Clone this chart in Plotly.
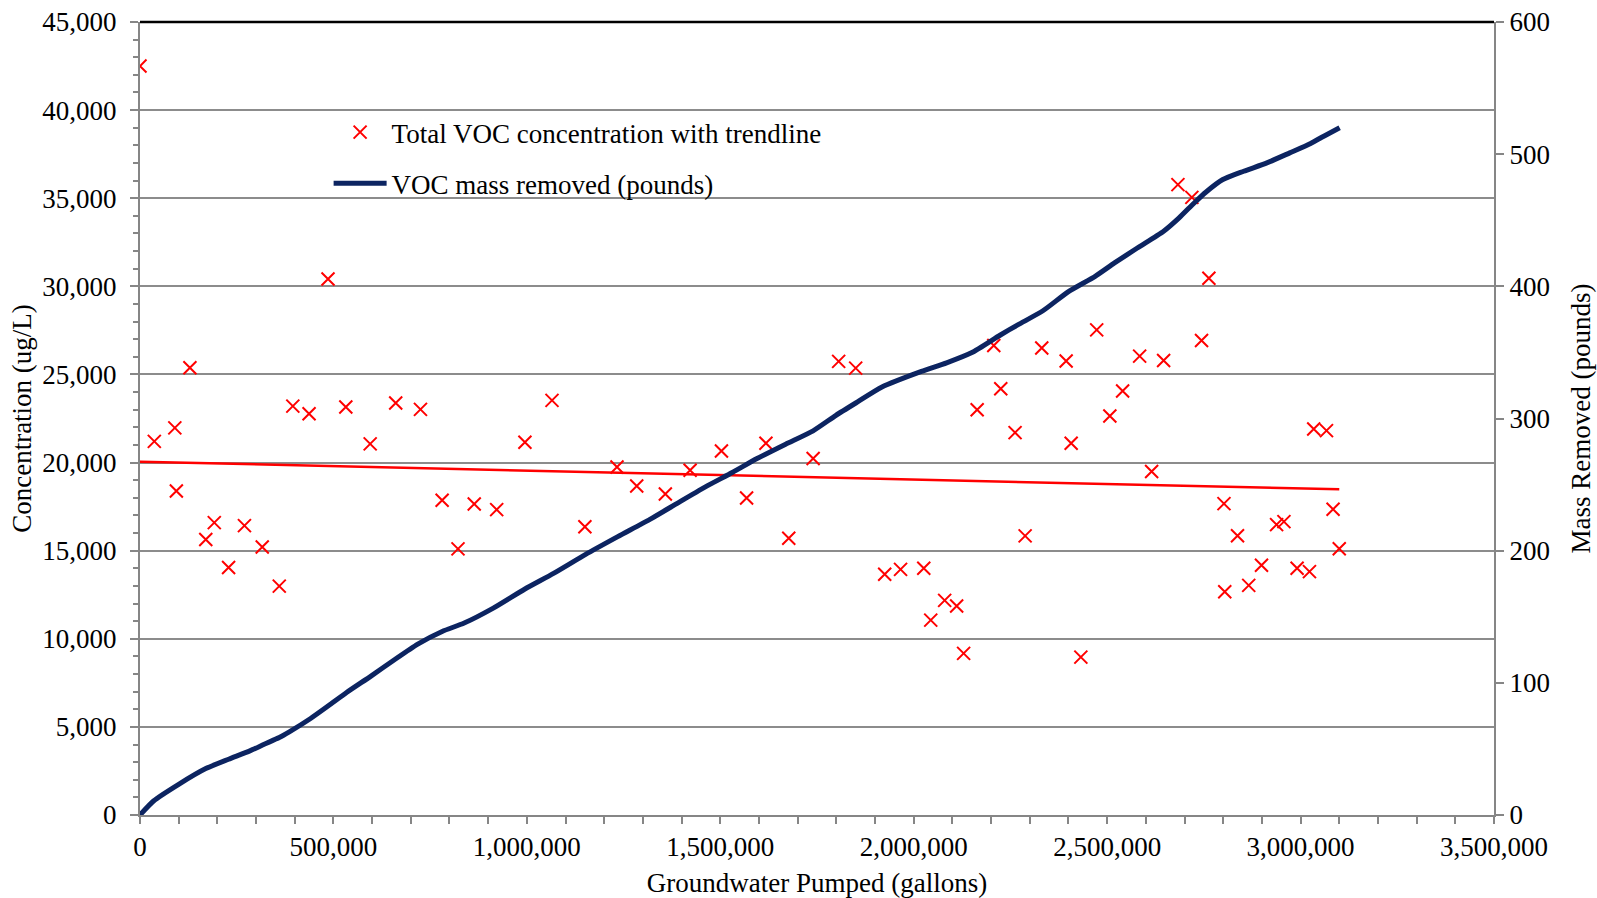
import plotly.graph_objects as go

# --- data ---
conc_gallons = [0, 37000, 90000, 94000, 129000, 170000, 192000, 229000, 270000, 316000,
                360000, 395000, 437000, 486000, 532000, 595000, 661000, 725000, 781000, 822000,
                864000, 922000, 995000, 1065000, 1150000, 1233000, 1284000, 1358000, 1422000, 1503000,
                1568000, 1618000, 1677000, 1740000, 1806000, 1850000, 1925000, 1966000, 2026000, 2044000,
                2080000, 2111000, 2129000, 2164000, 2207000, 2225000, 2262000, 2288000, 2331000, 2394000,
                2407000, 2432000, 2473000, 2507000, 2540000, 2584000, 2615000, 2646000, 2683000, 2719000,
                2744000, 2763000, 2802000, 2804000, 2837000, 2866000, 2899000, 2938000, 2957000, 2991000,
                3023000, 3034000, 3067000, 3084000, 3100000]
conc_values = [42500, 21200, 21970, 18390, 25380, 15630, 16590, 14040, 16420, 15210,
               12990, 23200, 22770, 30420, 23150, 21060, 23380, 23020, 17860, 15100,
               17650, 17330, 21150, 23530, 16360, 19750, 18670, 18220, 19560, 20660,
               17990, 21100, 15700, 20230, 25740, 25360, 13660, 13940, 14000, 11060,
               12180, 11860, 9170, 23000, 26640, 24190, 21700, 15840, 26500, 25760,
               21100, 8960, 27530, 22640, 24060, 26040, 19490, 25790, 35770, 35050,
               26930, 30460, 17670, 12670, 15850, 13030, 14170, 16480, 16650, 14000,
               13810, 21900, 21810, 17350, 15110]

trend_gallons = [0, 3100000]
trend_values = [20050, 18480]

mass_gallons = [0, 35000, 100000, 170000, 229000, 284000, 321000, 360000, 386000, 441000,
                487000, 534000, 598000, 654000, 718000, 781000, 838000, 912000, 995000, 1069000,
                1152000, 1235000, 1318000, 1392000, 1466000, 1531000, 1595000, 1669000, 1740000, 1799000,
                1854000, 1918000, 2020000, 2085000, 2149000, 2223000, 2270000, 2334000, 2400000, 2469000,
                2519000, 2578000, 2646000, 2686000, 2725000, 2755000, 2799000, 2853000, 2913000, 2972000,
                3026000, 3060000, 3101000]
mass_pounds = [0, 10.6, 23.2, 35.1, 42.2, 48.5, 53.5, 58.6, 62.9, 73.0,
               82.6, 92.7, 105.3, 116.7, 129.3, 138.9, 145.2, 156.3, 171.0, 182.8,
               197.2, 210.6, 223.7, 236.4, 249.0, 259.1, 269.7, 280.6, 290.7, 302.4,
               312.4, 323.8, 335.6, 342.1, 349.7, 363.0, 371.0, 381.5, 396.0, 407.6,
               417.7, 429.0, 441.7, 451.8, 463.1, 471.2, 480.8, 487.1, 493.4, 501.0,
               508.1, 513.6, 520.0]

x_ticks = [0, 500000, 1000000, 1500000, 2000000, 2500000, 3000000, 3500000]

FONT = "Liberation Serif"
FS = 27
AXIS_GRAY = "#868686"
GRID_GRAY = "#8c8c8c"
NAVY = "#0c2461"

fig = go.Figure()

fig.add_trace(go.Scatter(
    x=conc_gallons, y=conc_values, mode="markers",
    name="Total VOC concentration with trendline",
    legendgroup="a",
    marker=dict(symbol="x-thin", size=13, color="#ff0000",
                line=dict(color="#ff0000", width=2)),
))
fig.add_trace(go.Scatter(
    x=trend_gallons, y=trend_values, mode="lines",
    line=dict(color="#ff0000", width=2.5), showlegend=False, hoverinfo="skip",
))
fig.add_trace(go.Scatter(
    x=mass_gallons, y=mass_pounds, mode="lines", yaxis="y2",
    name="VOC mass removed (pounds)",
    legendgroup="b",
    line=dict(color=NAVY, width=5, shape="spline", smoothing=0.6),
))

fig.update_layout(
    width=1597, height=898,
    paper_bgcolor="white", plot_bgcolor="white",
    margin=dict(l=140, r=103, t=22, b=83),
    font=dict(family=FONT, size=FS, color="black"),
    showlegend=True,
    legend=dict(x=0.1393, y=0.8915, xanchor="left", yanchor="top",
                bgcolor="rgba(0,0,0,0)", font=dict(family=FONT, size=FS),
                itemwidth=53, tracegroupgap=13),
    xaxis=dict(
        range=[0, 3500000], tickvals=x_ticks, tickformat=",",
        showgrid=False, zeroline=False, automargin=False,
        showline=True, linecolor=AXIS_GRAY, linewidth=2,
        ticks="outside", ticklen=7, tickwidth=1.5, tickcolor=AXIS_GRAY,
        minor=dict(dtick=100000, ticks="outside", ticklen=7, tickwidth=1.5,
                   tickcolor=AXIS_GRAY, showgrid=False),
        title=dict(text="Groundwater Pumped (gallons)", standoff=19,
                   font=dict(family=FONT, size=FS)),
        tickfont=dict(family=FONT, size=FS),
    ),
    yaxis=dict(
        range=[0, 45000], dtick=5000, tickformat=",",
        showgrid=True, gridcolor=GRID_GRAY, gridwidth=1.5,
        zeroline=False, automargin=False,
        showline=True, linecolor=AXIS_GRAY, linewidth=2,
        ticks="outside", ticklen=8, tickwidth=1.5, tickcolor=AXIS_GRAY,
        ticklabelstandoff=8,
        minor=dict(dtick=1000, ticks="outside", ticklen=5, tickwidth=1.5,
                   tickcolor=AXIS_GRAY, showgrid=False),
        title=dict(text="Concentration (ug/L)", standoff=3,
                   font=dict(family=FONT, size=FS)),
        tickfont=dict(family=FONT, size=FS),
    ),
    yaxis2=dict(
        range=[0, 600], dtick=100, overlaying="y", side="right",
        showgrid=False, zeroline=False, automargin=False,
        showline=True, linecolor=AXIS_GRAY, linewidth=2,
        ticks="outside", ticklen=8, tickwidth=1.5, tickcolor=AXIS_GRAY,
        title=dict(text="Mass Removed (pounds)", standoff=22,
                   font=dict(family=FONT, size=FS)),
        tickfont=dict(family=FONT, size=FS),
    ),
    shapes=[dict(type="line", xref="paper", yref="paper", x0=0, x1=1, y0=1, y1=1,
                 line=dict(color="black", width=2.5))],
)

fig.write_html("out.html",
               config={"displayModeBar": False},
               post_script="document.body.style.margin='0px';document.body.style.overflow='hidden';")
